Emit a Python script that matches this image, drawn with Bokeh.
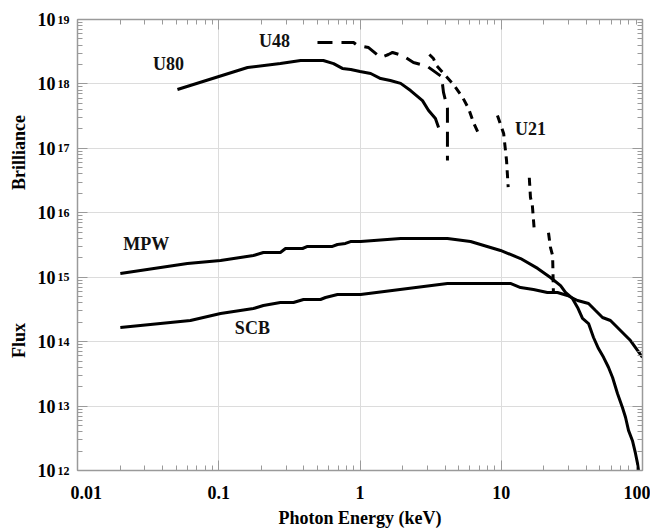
import math
from bokeh.plotting import figure
from bokeh.layouts import row
from bokeh.models import LogAxis, FixedTicker, Label, CustomJSTickFormatter, Range1d
from bokeh.core.properties import value
from bokeh.embed import file_html
from bokeh.resources import INLINE

nan = float("nan")

# ---- data ----
u80_e = [0.051, 0.16, 0.273, 0.38, 0.55, 0.65, 0.75, 0.86, 1.0, 1.19, 1.40, 1.64, 1.94, 2.28, 2.77, 3.05, 3.42, 3.6]
u80_b = [8.2e17, 1.8e18, 2.07e18, 2.31e18, 2.31e18, 2.07e18, 1.74e18, 1.68e18, 1.56e18, 1.45e18, 1.21e18, 1.13e18,
         1.02e18, 7.9e17, 5.5e17, 3.9e17, 2.9e17, 2.1e17]

u48_e = [0.50, 0.90, 0.96, 1.15, 1.40, 1.59, 1.70, 2.0, 2.39, 3.0, 3.78, 3.90, 4.16, 4.16]
u48_b = [4.4e18, 4.4e18, 3.95e18, 3.67e18, 2.57e18, 2.86e18, 3.08e18, 2.76e18, 2.15e18, 1.87e18, 1.30e18, 7.4e17,
         4.2e17, 6.5e16]

u21_e = [3.10, 3.31, 3.48, 4.59, 5.32, 5.86, 6.37, 7.01, nan,
         9.40, 10.4, 10.9, 11.2, nan,
         15.8, 16.1, 16.6, 17.2, nan,
         21.6, 22.3, 23.1, 23.4]
u21_b = [2.86e18, 2.48e18, 1.93e18, 9.8e17, 6.2e17, 4.2e17, 2.5e17, 1.58e17, nan,
         3.24e17, 1.70e17, 6.5e16, 2.5e16, nan,
         3.5e16, 1.73e16, 1.30e16, 4.8e15, nan,
         4.9e15, 2.9e15, 2.17e15, 5.8e14]

mpw_e = [0.0201, 0.060, 0.103, 0.176, 0.207, 0.273, 0.297, 0.392, 0.425, 0.638, 0.693, 0.789, 0.857, 1.01, 1.94,
         4.16, 6.06, 9.88, 13.7, 18.1, 22.3, 26.3, 28.5, 31.9, 34.7, 37.6, 41.5, 45.0, 48.8, 53.0, 57.4, 61.4,
         66.5, 72.1, 75.8, 79.6, 84.9, 89.2, 92.2, 93.7]
mpw_f = [1.14e15, 1.63e15, 1.82e15, 2.17e15, 2.42e15, 2.42e15, 2.79e15, 2.79e15, 3.0e15, 3.0e15, 3.22e15, 3.34e15,
         3.58e15, 3.58e15, 3.99e15, 3.99e15, 3.58e15, 2.60e15, 1.95e15, 1.37e15, 9.9e14, 7.4e14, 5.8e14, 4.68e14,
         3.39e14, 2.29e14, 1.91e14, 1.16e14, 7.8e13, 5.7e13, 4.0e13, 2.78e13, 1.57e13, 9.5e12, 6.7e12, 4.2e12,
         2.9e12, 1.84e12, 1.29e12, 1.0e12]

scb_e = [0.0201, 0.063, 0.103, 0.176, 0.207, 0.273, 0.338, 0.398, 0.525, 0.570, 0.693, 1.01, 4.16, 11.6, 13.7,
         16.9, 21.2, 25.0, 29.4, 34.7, 41.5, 46.5, 52.1, 59.3, 66.5, 73.3, 82.2, 92.2, 100]
scb_f = [1.66e14, 2.13e14, 2.73e14, 3.27e14, 3.64e14, 4.05e14, 4.05e14, 4.51e14, 4.51e14, 4.84e14, 5.39e14,
         5.39e14, 8.0e14, 8.0e14, 6.9e14, 6.45e14, 5.8e14, 5.8e14, 5.2e14, 4.35e14, 3.91e14, 3.04e14, 2.37e14,
         2.13e14, 1.66e14, 1.34e14, 1.04e14, 7.3e13, 5.7e13]

curve_names = ["U80", "U48", "U21", "MPW", "SCB"]
curve_label_x = [0.044, 0.248, 16.1, 0.0307, 0.173]
curve_label_y = [2.07e18, 4.56e18, 2.03e17, 3.22e15, 1.6e14]

x_ticks = [0.01, 0.1, 1, 10, 100]
x_tick_labels = ["0.01", "0.1", "1", "10", "100"]
y_exponents = [12, 13, 14, 15, 16, 17, 18, 19]
y_titles = ["Brilliance", "Flux"]
y_title_pos = [8.6e16, 1.04e14]

FONT = "Liberation Serif"
AX = "#9a9a9a"
E_LO, E_HI = 12, 19
TOP, BOTTOM, FRAME_H = 19, 80, 451

# ---------- main chart ----------
p = figure(x_axis_type="log", y_axis_type="log", x_range=Range1d(0.01, 100),
           y_range=Range1d(10.0 ** E_LO, 10.0 ** E_HI), title=None,
           frame_width=565, frame_height=FRAME_H, min_border_left=7, min_border_right=8,
           min_border_top=TOP, min_border_bottom=BOTTOM, output_backend="svg", toolbar_location=None,
           background_fill_color="white", border_fill_color="white", outline_line_color=AX)
p.frame_align = False

x_minor = [k * 10.0 ** e for e in range(-2, 2) for k in range(2, 10)]
y_ticks = [10.0 ** e for e in y_exponents]
y_minor = [k * 10.0 ** e for e in y_exponents[:-1] for k in range(2, 10)]

def style_axis(ax, ticks, minor, show_labels=False):
    ax.ticker = FixedTicker(ticks=ticks, minor_ticks=minor)
    ax.axis_line_color = AX
    ax.axis_line_width = 1.5
    ax.major_tick_line_color = AX
    ax.minor_tick_line_color = AX
    ax.major_tick_in = 10
    ax.major_tick_out = 0
    ax.minor_tick_in = 5
    ax.minor_tick_out = 0
    if not show_labels:
        ax.formatter = CustomJSTickFormatter(code="return ' ';")
        ax.major_label_text_font_size = "2px"
        ax.major_label_standoff = 0

style_axis(p.xaxis[0], [float(t) for t in x_ticks], x_minor, show_labels=True)
p.xaxis[0].major_label_overrides = {float(t): s for t, s in zip(x_ticks, x_tick_labels)}
p.xaxis[0].major_label_text_font = FONT
p.xaxis[0].major_label_text_font_style = "bold"
p.xaxis[0].major_label_text_font_size = "18px"
p.xaxis[0].major_label_text_color = "black"
p.xaxis[0].major_label_standoff = 15
p.xaxis[0].axis_label = "Photon Energy (keV)"
p.xaxis[0].axis_label_text_font = FONT
p.xaxis[0].axis_label_text_font_style = "bold"
p.xaxis[0].axis_label_text_font_size = "18px"
p.xaxis[0].axis_label_text_color = "black"
p.xaxis[0].axis_label_standoff = 6

style_axis(p.yaxis[0], y_ticks, y_minor)

top = LogAxis()
style_axis(top, [float(t) for t in x_ticks], x_minor)
p.add_layout(top, "above")
right = LogAxis()
style_axis(right, y_ticks, y_minor)
p.add_layout(right, "right")

p.xgrid.grid_line_color = "#dcdcdc"
p.ygrid.grid_line_color = "#dcdcdc"

p.line(u80_e, u80_b, line_color="black", line_width=3)
p.line(u48_e, u48_b, line_color="black", line_width=3, line_dash="15 9")
p.line(u21_e, u21_b, line_color="black", line_width=3, line_dash="8 6")
p.line(mpw_e, mpw_f, line_color="black", line_width=3)
p.line(scb_e, scb_f, line_color="black", line_width=3)

for name, lx, ly in zip(curve_names, curve_label_x, curve_label_y):
    p.add_layout(Label(x=lx, y=ly, text=name, text_align="center", text_baseline="middle",
                       text_font=FONT, text_font_style="bold", text_font_size="18px", text_color="#111111"))

# ---------- left strip: y tick labels and y titles ----------
# its frame spans the full height, with the same decades-per-pixel scale as the main chart
dec_per_px = (E_HI - E_LO) / FRAME_H
strip_lo = 10.0 ** (E_LO - BOTTOM * dec_per_px)
strip_hi = 10.0 ** (E_HI + TOP * dec_per_px)
fl = figure(y_axis_type="log", x_range=Range1d(0, 70), y_range=Range1d(strip_lo, strip_hi), title=None,
            frame_width=70, frame_height=FRAME_H + TOP + BOTTOM, min_border=0,
            min_border_left=0, min_border_right=0, min_border_top=0, min_border_bottom=0,
            output_backend="svg", toolbar_location=None,
            x_axis_location=None, y_axis_location=None, outline_line_color=None,
            background_fill_color="white", border_fill_color="white")
fl.frame_align = False
fl.xgrid.visible = False
fl.ygrid.visible = False

fl.text(x=[55] * len(y_exponents), y=y_ticks, text=["10"] * len(y_exponents),
        text_align="right", text_baseline="middle", text_font=value(FONT), text_font_style="bold",
        text_font_size="18px", text_color="black")
fl.text(x=[57] * len(y_exponents), y=y_ticks, text=[str(e) for e in y_exponents],
        text_align="left", text_baseline="alphabetic", text_font=value(FONT), text_font_style="bold",
        text_font_size="12px", text_color="black")
fl.text(x=[18] * len(y_titles), y=y_title_pos, text=y_titles, angle=math.pi / 2,
        text_align="center", text_baseline="middle", text_font=value(FONT), text_font_style="bold",
        text_font_size="18px", text_color="black")

layout = row(fl, p)
open("out.html", "w").write(file_html(layout, INLINE))
